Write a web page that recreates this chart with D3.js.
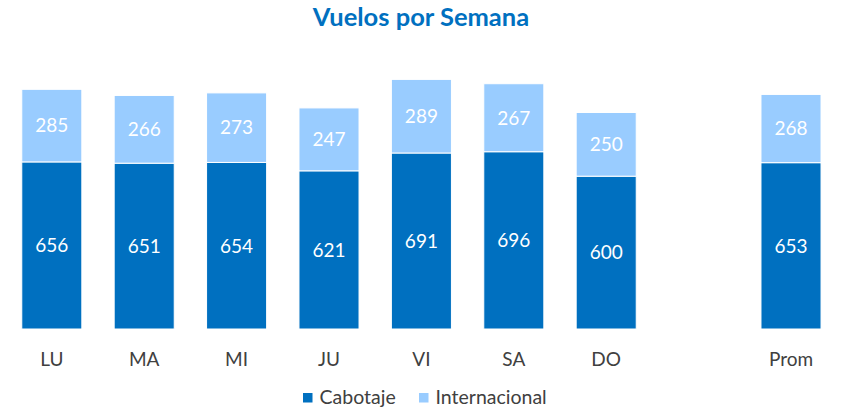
<!DOCTYPE html>
<html>
<head>
<meta charset="utf-8">
<script src="https://cdn.jsdelivr.net/npm/d3@7"></script>
<style>
  html, body { margin: 0; padding: 0; background: #fff; }
  svg { display: block; font-family: Lato, "Open Sans", sans-serif; }
</style>
</head>
<body>
<svg id="chart" width="843" height="411"></svg>
<script>
// ---- data ----
const categories = ["LU", "MA", "MI", "JU", "VI", "SA", "DO", "", "Prom"];
const cabotaje = [656, 651, 654, 621, 691, 696, 600, null, 653];
const internacional = [285, 266, 273, 247, 289, 267, 250, null, 268];
const seriesNames = ["Cabotaje", "Internacional"];
const seriesColors = ["#0070C0", "#99CCFF"];
const title = "Vuelos por Semana";

// ---- layout ----
const svg = d3.select("#chart");

const x = d3.scaleBand()
  .domain(categories.map((c, i) => i))
  .range([5.6, 837.2])
  .paddingInner(0.35)
  .paddingOuter(0.175);

const y = d3.scaleLinear().domain([0, 1000]).range([329, 74.3]);

// title
svg.append("text")
  .attr("x", 421).attr("y", 25.5)
  .attr("text-anchor", "middle")
  .attr("font-size", 25.5).attr("font-weight", "bold")
  .attr("fill", "#0070C0")
  .text(title);

const rows = categories.map((c, i) => ({
  i, cat: c,
  Cabotaje: cabotaje[i], Internacional: internacional[i]
})).filter(d => d.Cabotaje != null);

const stacked = d3.stack().keys(seriesNames)(rows);

const g = svg.append("g");
stacked.forEach((layer, si) => {
  const lg = g.append("g");
  lg.selectAll("rect").data(layer).join("rect")
    .attr("x", d => x(d.data.i))
    .attr("width", x.bandwidth())
    .attr("y", d => y(d[1]))
    .attr("height", d => y(d[0]) - y(d[1]))
    .attr("fill", seriesColors[si])
    .attr("stroke", "#fff")
    .attr("stroke-width", 1);
  lg.selectAll("text").data(layer).join("text")
    .attr("x", d => x(d.data.i) + x.bandwidth() / 2)
    .attr("y", d => (y(d[0]) + y(d[1])) / 2)
    .attr("dy", "0.36em")
    .attr("text-anchor", "middle")
    .attr("font-size", 19)
    .attr("fill", "#fff")
    .text(d => d.data[seriesNames[si]]);
});

// x axis labels
const xAxis = d3.axisBottom(x).tickSize(0).tickPadding(0)
  .tickFormat(i => categories[i]);
const ax = svg.append("g").attr("transform", "translate(0,352)").call(xAxis);
ax.select(".domain").remove();
ax.selectAll("text")
  .attr("font-size", 19)
  .attr("font-family", "Lato, 'Open Sans', sans-serif")
  .attr("fill", "#404040");

// legend
const legendX = [303, 419];
const lgd = svg.append("g");
seriesNames.forEach((name, i) => {
  lgd.append("rect")
    .attr("x", legendX[i]).attr("y", 393)
    .attr("width", 9.5).attr("height", 9.5)
    .attr("fill", seriesColors[i]);
  lgd.append("text")
    .attr("x", legendX[i] + 16.5).attr("y", 403.5)
    .attr("font-size", 19.5)
    .attr("fill", "#404040")
    .text(name);
});
</script>
</body>
</html>
